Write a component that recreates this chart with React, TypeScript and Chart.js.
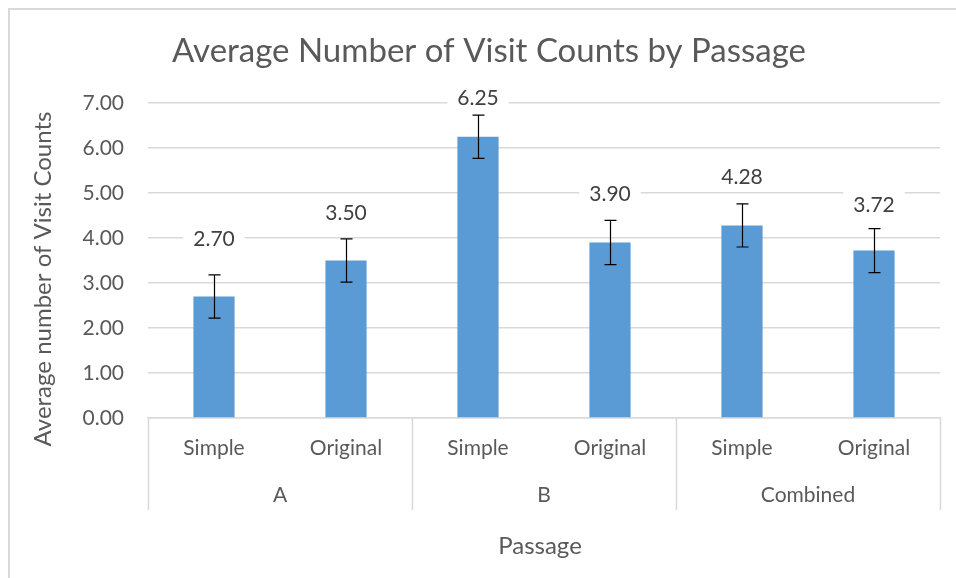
import React, { useEffect, useRef } from "react";
import { Chart, registerables } from "chart.js";

Chart.register(...registerables);

const categories = ["Simple", "Original", "Simple", "Original", "Simple", "Original"];
const groups = ["A", "B", "Combined"];
const groupSizes = [2, 2, 2];
const values = [2.7, 3.5, 6.25, 3.9, 4.28, 3.72];
const errors = [0.48, 0.48, 0.48, 0.49, 0.48, 0.49];
const labelOffsets = [1.3, 1.08, 0.88, 1.1, 1.1, 1.04];
const yMin = 0;
const yMax = 7;
const yStep = 1;

const chartTitle = "Average Number of Visit Counts by Passage";
const yTitle = "Average number of Visit Counts";
const xTitle = "Passage";

const FONT = "Lato, 'Open Sans', sans-serif";
const TEXT = "#595959";
const GRID = "#d9d9d9";
const BAR = "#5b9bd5";

const decorPlugin = {
  id: "decor",
  beforeDraw(chart: any) {
    const ctx = chart.ctx;
    ctx.save();
    ctx.fillStyle = "#ffffff";
    ctx.fillRect(0, 0, chart.width, chart.height);
    ctx.strokeStyle = GRID;
    ctx.lineWidth = 2;
    ctx.beginPath();
    ctx.moveTo(9, chart.height);
    ctx.lineTo(9, 9);
    ctx.lineTo(chart.width, 9);
    ctx.stroke();
    ctx.restore();
  },
  afterDatasetsDraw(chart: any) {
    const ctx = chart.ctx;
    const x = chart.scales.x;
    const y = chart.scales.y;
    const area = chart.chartArea;
    ctx.save();
    // error bars
    ctx.strokeStyle = "#000000";
    ctx.lineWidth = 1.2;
    values.forEach((v, i) => {
      const cx = Math.round(x.getPixelForValue(i)) + 0.5;
      const yt = y.getPixelForValue(v + errors[i]);
      const yb = y.getPixelForValue(v - errors[i]);
      ctx.beginPath();
      ctx.moveTo(cx, yt);
      ctx.lineTo(cx, yb);
      ctx.moveTo(cx - 6, yt);
      ctx.lineTo(cx + 6, yt);
      ctx.moveTo(cx - 6, yb);
      ctx.lineTo(cx + 6, yb);
      ctx.stroke();
    });
    // data labels
    ctx.font = `21px ${FONT}`;
    ctx.textAlign = "center";
    ctx.textBaseline = "middle";
    values.forEach((v, i) => {
      const cx = x.getPixelForValue(i);
      const cy = y.getPixelForValue(v + labelOffsets[i]);
      const t = v.toFixed(2);
      const w = ctx.measureText(t).width;
      ctx.fillStyle = "#ffffff";
      ctx.fillRect(cx - w / 2 - 10, cy - 12, w + 20, 24);
      ctx.fillStyle = "#404040";
      ctx.fillText(t, cx, cy + 1);
    });
    // group separators and labels
    ctx.strokeStyle = GRID;
    ctx.lineWidth = 1.5;
    let start = 0;
    const bounds: number[] = [x.getPixelForValue(-0.5)];
    groupSizes.forEach((n) => {
      start += n;
      bounds.push(x.getPixelForValue(start - 0.5));
    });
    bounds.forEach((bx) => {
      ctx.beginPath();
      ctx.moveTo(Math.round(bx) + 0.5, area.bottom);
      ctx.lineTo(Math.round(bx) + 0.5, area.bottom + 92);
      ctx.stroke();
    });
    ctx.fillStyle = TEXT;
    ctx.font = `21px ${FONT}`;
    groups.forEach((g, i) => {
      const cx = (bounds[i] + bounds[i + 1]) / 2;
      ctx.fillText(g, cx, area.bottom + 77);
    });
    // titles
    ctx.font = `33px ${FONT}`;
    ctx.fillText(chartTitle, 489, 51);
    ctx.font = `24px ${FONT}`;
    ctx.fillText(xTitle, 540, 546);
    ctx.save();
    ctx.translate(43, 279);
    ctx.rotate(-Math.PI / 2);
    ctx.fillText(yTitle, 0, 0);
    ctx.restore();
    ctx.restore();
  },
};

export default function App() {
  const ref = useRef<HTMLCanvasElement | null>(null);
  useEffect(() => {
    if (!ref.current) return;
    const chart = new Chart(ref.current, {
      type: "bar",
      data: {
        labels: categories,
        datasets: [
          {
            data: values,
            backgroundColor: BAR,
            borderWidth: 0,
            barPercentage: 0.8,
            categoryPercentage: 0.39,
          },
        ],
      },
      plugins: [decorPlugin],
      options: {
        responsive: false,
        animation: false,
        layout: { padding: { left: 0, top: 103, right: 16, bottom: 0 } },
        plugins: {
          legend: { display: false },
          title: { display: false },
          tooltip: { enabled: false },
        },
        scales: {
          x: {
            grid: { display: false, drawTicks: false },
            border: { display: true, color: GRID, width: 1.5 },
            ticks: {
              color: TEXT,
              font: { family: FONT, size: 21 },
              padding: 18,
              maxRotation: 0,
              autoSkip: false,
            },
            afterFit: (s: any) => {
              s.height = 160;
            },
          },
          y: {
            min: yMin,
            max: yMax,
            grid: { color: GRID, lineWidth: 1.5, drawTicks: false },
            border: { display: false },
            ticks: {
              stepSize: yStep,
              color: TEXT,
              font: { family: FONT, size: 21 },
              padding: 24,
              callback: (v: any) => Number(v).toFixed(2),
            },
            afterFit: (s: any) => {
              s.width = 148;
            },
          },
        },
      },
    });
    return () => chart.destroy();
  }, []);
  return (
    <div style={{ position: "absolute", left: 0, top: 0, width: 956, height: 578, background: "#fff" }}>
      <canvas ref={ref} width={956} height={578} style={{ display: "block", width: 956, height: 578 }} />
    </div>
  );
}
